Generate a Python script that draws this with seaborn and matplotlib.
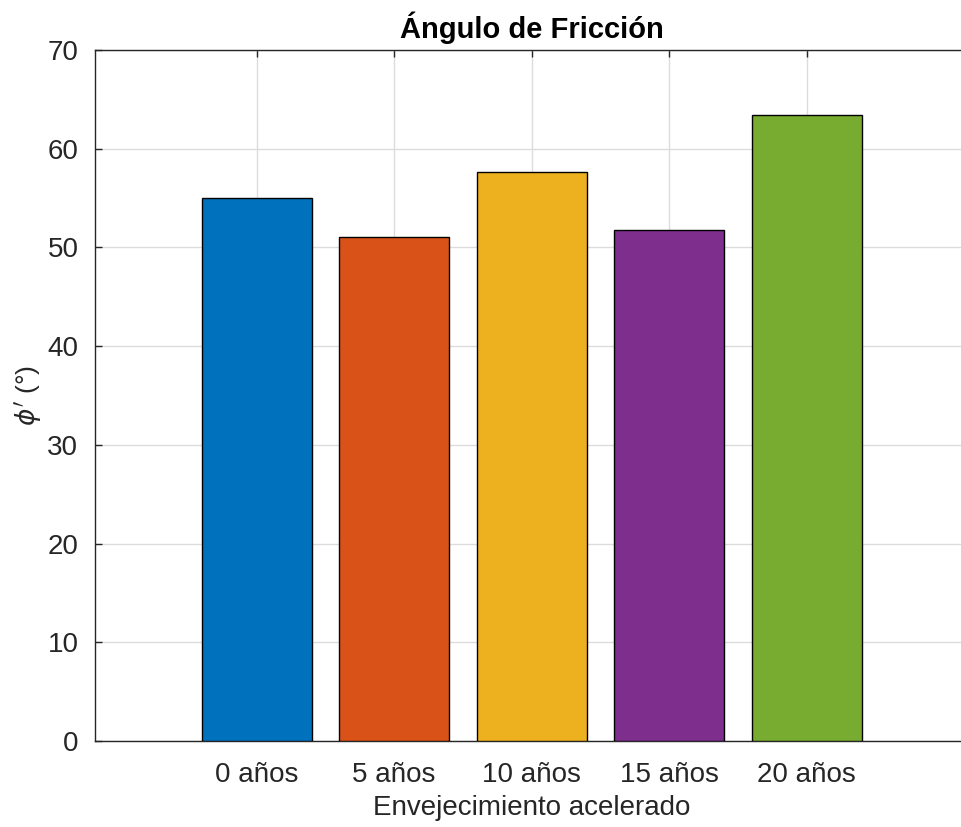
import matplotlib
matplotlib.use("Agg")
import matplotlib.pyplot as plt
import seaborn as sns
import pandas as pd

categories = ["0 años", "5 años", "10 años", "15 años", "20 años"]
values = [55.05, 51.1, 57.65, 51.77, 63.4]
colors = ["#0072BD", "#D95319", "#EDB120", "#7E2F8E", "#77AC30"]
yticks = [0, 10, 20, 30, 40, 50, 60, 70]

sns.set_theme(style="white")
plt.rcParams['font.family'] = ['Liberation Sans', 'DejaVu Sans']
plt.rcParams['mathtext.fontset'] = 'dejavusans'

df = pd.DataFrame({"cat": categories, "val": values})

fig = plt.figure(figsize=(9.61, 8.27), dpi=100)
ax = fig.add_axes([0.0989, 0.104, 0.9085, 0.8355])

sns.barplot(data=df, x="cat", y="val", hue="cat", palette=colors, legend=False,
            width=0.8, edgecolor="black", linewidth=1.0, saturation=1, ax=ax, zorder=3)

ax.set_xlim(-1.175, 5.175)
ax.set_ylim(0, 70)
ax.set_yticks(yticks)
ax.grid(True, color="#dcdcdc", linewidth=1.0, zorder=0)
ax.set_axisbelow(True)
for s in ax.spines.values():
    s.set_color("#262626")
    s.set_linewidth(1.0)
ax.tick_params(axis="both", direction="in", length=5, width=1, color="#262626",
               labelsize=20, labelcolor="#262626", top=True, right=True, left=True, bottom=True)
ax.tick_params(axis="x", pad=15)
ax.tick_params(axis="y", pad=12)

ax.set_xlabel("Envejecimiento acelerado", fontsize=20, color="#262626", labelpad=5)
ax.set_ylabel(r"$\phi'$ (°)", fontsize=19, color="#262626")
ax.yaxis.set_label_coords(-0.058, 0.5)
ax.set_title("Ángulo de Fricción", fontsize=21, fontweight="bold", color="black", pad=9)

fig.savefig("out.png", dpi=100)
